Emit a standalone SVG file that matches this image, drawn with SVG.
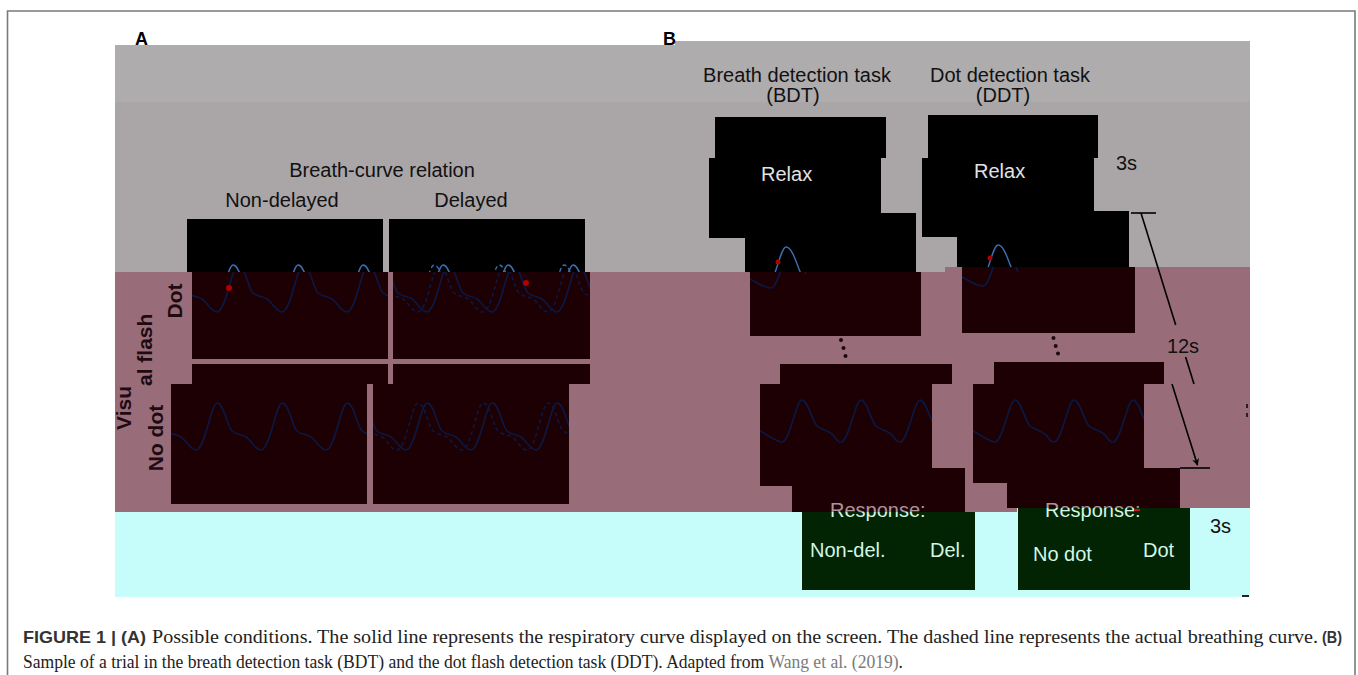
<svg xmlns="http://www.w3.org/2000/svg" width="1358" height="675" viewBox="0 0 1358 675">
<style>
.t{font-family:"Liberation Sans",Arial,sans-serif;font-size:20px;fill:#111}
.lbl{font-family:"Liberation Sans",Arial,sans-serif;font-size:21px;font-weight:bold;fill:#1e0a10}
.hd{font-family:"Liberation Sans",Arial,sans-serif;font-size:18px;font-weight:bold;fill:#000}
.scr{fill:#000}
.mar{fill:#1c0004}
.grn{fill:#022402}
.wt{font-family:"Liberation Sans",Arial,sans-serif;font-size:20px;fill:#e2e2e2}
.wc{font-family:"Liberation Sans",Arial,sans-serif;font-size:20px;fill:#d2f7e6}
.cg{fill:none;stroke:#3d70b0;stroke-width:1.4}
.cp{fill:none;stroke:#0b1844;stroke-width:1.6}
.dash{stroke-dasharray:4 3}
.conn{stroke:#000;stroke-width:1.6;fill:none}
.dot{fill:#1a0a0e}
.red{fill:#b00000}
.cap{font-family:"Liberation Serif","Times New Roman",serif;font-size:19px;fill:#222}
.capb{font-family:"Liberation Sans",Arial,sans-serif;font-size:17px;font-weight:bold;fill:#333}
</style>
<defs>
<path id="wA" d="M115,296 C125,299 145,312 152,312 C161,312 167,265 173,265 C180,265 183,288 188,293 C193,297 197,296 202,299 C207,302 211,312 217,312 C226,312 232,265 238,265 C245,265 248,288 253,293 C258,297 262,296 267,299 C272,302 276,312 282,312 C291,312 297,265 303,265 C310,265 313,288 318,293 C323,297 327,296 332,299 C337,302 341,312 347,312 C356,312 362,265 368,265 C375,265 378,288 383,293 C388,297 392,296 397,299 C402,302 406,312 412,312 C421,312 427,265 433,265 C440,265 443,288 448,293"/>
<path id="wB" d="M740,418 C748,422 774,442 782,442 C790,442 796,400 802,400 C808,400 812,421 817,426 C822,430 827,430 832,434 C836,437 836,442 841,442 C849,442 855,400 861,400 C867,400 871,421 876,426 C881,430 886,430 891,434 C895,437 895,442 900,442 C908,442 914,400 920,400 C926,400 930,421 935,426"/>
<path id="wS" d="M750,279 C758,283 764,288 771,288 C779,288 785,247 791,247 C797,247 801,262 806,274"/>
<linearGradient id="gRespB" gradientUnits="userSpaceOnUse" x1="0" y1="500" x2="0" y2="525">
<stop offset="0.48" stop-color="#b0929b"/><stop offset="0.48" stop-color="#d2f7e6"/>
</linearGradient>
<linearGradient id="gRespD" gradientUnits="userSpaceOnUse" x1="0" y1="500" x2="0" y2="525">
<stop offset="0.32" stop-color="#b0929b"/><stop offset="0.32" stop-color="#d2f7e6"/>
</linearGradient>
<clipPath id="cA1g"><rect x="187" y="219" width="196" height="53"/></clipPath>
<clipPath id="cA2g"><rect x="389" y="219" width="196" height="53"/></clipPath>
<clipPath id="cA1p"><rect x="192" y="272" width="196" height="87"/></clipPath>
<clipPath id="cA2p"><rect x="393" y="272" width="197" height="87"/></clipPath>
<clipPath id="cA3"><rect x="171" y="384" width="196" height="120"/></clipPath>
<clipPath id="cA4"><rect x="373" y="384" width="196" height="120"/></clipPath>
<clipPath id="cB1g"><rect x="745" y="213" width="171" height="59"/></clipPath>
<clipPath id="cB1p"><rect x="750" y="272" width="171" height="64"/></clipPath>
<clipPath id="cD1g"><rect x="957" y="211" width="172" height="56"/></clipPath>
<clipPath id="cD1p"><rect x="962" y="267" width="173" height="66"/></clipPath>
<clipPath id="cB2"><rect x="760" y="384" width="172" height="102"/></clipPath>
<clipPath id="cD2"><rect x="973" y="384" width="171" height="99"/></clipPath>
<clipPath id="cUp"><rect x="115" y="272" width="200" height="115"/></clipPath>
<clipPath id="cLo"><rect x="115" y="387" width="200" height="125"/></clipPath>
<marker id="ah" viewBox="0 0 10 10" refX="9" refY="5" markerWidth="7" markerHeight="7" orient="auto" markerUnits="userSpaceOnUse"><path d="M0,0 L10,5 L0,10 L3,5 Z" fill="#000"/></marker>
</defs>

<g id="frame">
<path d="M7.5,675 V11 H1355 V675" fill="none" stroke="#7a7a7a" stroke-width="1.6"/>
</g>

<g id="bands">
<path d="M115,45 H675 V41 H1250 V102 H115 Z" fill="#afacae"/>
<rect x="115" y="102" width="1135" height="170" fill="#aaa6a8"/>
<path d="M115,272 H945 V267 H1250 V508 H1017 V512 H115 Z" fill="#986d79"/>
<path d="M115,512 H1017 V508 H1250 V597 H115 Z" fill="#c6fcf9"/>
</g>

<g id="panel-labels">
<text class="hd" x="135" y="45">A</text>
<text class="hd" x="663" y="45">B</text>
</g>

<g id="A-headers">
<text class="t" x="382" y="177" text-anchor="middle" font-size="21">Breath-curve relation</text>
<text class="t" x="282" y="207" text-anchor="middle" font-size="21">Non-delayed</text>
<text class="t" x="471" y="207" text-anchor="middle" font-size="21">Delayed</text>
</g>

<g id="A-row-labels">
<g clip-path="url(#cUp)"><text class="lbl" transform="translate(152,430) rotate(-90)">Visual flash</text></g>
<g clip-path="url(#cLo)"><text class="lbl" transform="translate(131,430) rotate(-90)">Visual flash</text></g>
<text class="lbl" transform="translate(182,301) rotate(-90)" text-anchor="middle">Dot</text>
<text class="lbl" transform="translate(163,438) rotate(-90)" text-anchor="middle">No dot</text>
</g>

<g id="A-nondelayed-dot">
<rect class="scr" x="187" y="219" width="196" height="53"/>
<rect class="mar" x="192" y="272" width="196" height="87"/>
<g clip-path="url(#cA1g)"><use href="#wA" class="cg" transform="translate(-5,0)"/></g>
<g clip-path="url(#cA1p)"><use href="#wA" class="cp"/></g>
<circle class="red" cx="229" cy="288" r="3"/>
</g>

<g id="A-delayed-dot">
<rect class="scr" x="389" y="219" width="196" height="53"/>
<rect class="mar" x="393" y="272" width="197" height="87"/>
<g clip-path="url(#cA2g)"><use href="#wA" class="cg" transform="translate(205,0)"/><use href="#wA" class="cg dash" transform="translate(196,0)"/></g>
<g clip-path="url(#cA2p)"><use href="#wA" class="cp" transform="translate(210,0)"/><use href="#wA" class="cp dash" transform="translate(201,0)"/></g>
<circle class="red" cx="526" cy="283" r="3"/>
</g>

<g id="A-nondelayed-nodot">
<rect class="mar" x="192" y="364" width="196" height="20"/>
<rect class="mar" x="171" y="384" width="196" height="120"/>
<g clip-path="url(#cA3)"><use href="#wA" class="cp" transform="translate(-21,138)"/></g>
</g>

<g id="A-delayed-nodot">
<rect class="mar" x="393" y="364" width="197" height="20"/>
<rect class="mar" x="373" y="384" width="196" height="120"/>
<g clip-path="url(#cA4)"><use href="#wA" class="cp" transform="translate(189,138)"/><use href="#wA" class="cp dash" transform="translate(180,138)"/></g>
</g>

<g id="B-headers">
<text class="t" x="797" y="82" text-anchor="middle">Breath detection task</text>
<text class="t" x="793" y="102" text-anchor="middle">(BDT)</text>
<text class="t" x="1010" y="82" text-anchor="middle">Dot detection task</text>
<text class="t" x="1003" y="102" text-anchor="middle">(DDT)</text>
</g>

<g id="BDT-relax">
<rect class="scr" x="715" y="117" width="171" height="41"/>
<rect class="scr" x="709" y="158" width="172" height="80"/>
<text class="wt" x="761" y="181">Relax</text>
</g>

<g id="BDT-curve-1">
<rect class="scr" x="745" y="213" width="171" height="59"/>
<rect class="mar" x="750" y="272" width="171" height="64"/>
<g clip-path="url(#cB1g)"><use href="#wS" class="cg" transform="translate(-5,0)"/></g>
<g clip-path="url(#cB1p)"><use href="#wS" class="cp"/></g>
<circle class="red" cx="778" cy="262" r="2.5"/>
</g>

<g id="BDT-ellipsis">
<circle class="dot" cx="841" cy="340" r="2"/>
<circle class="dot" cx="843.5" cy="348" r="2"/>
<circle class="dot" cx="845.5" cy="356" r="2"/>
</g>

<g id="BDT-curve-2">
<rect class="mar" x="780" y="364" width="172" height="20"/>
<rect class="mar" x="760" y="384" width="172" height="102"/>
<g clip-path="url(#cB2)"><use href="#wB" class="cp"/></g>
</g>

<g id="BDT-response">
<rect class="mar" x="792" y="468" width="173" height="44"/>
<rect class="grn" x="802" y="512" width="173" height="78"/>
<text class="wc" x="830" y="517" fill="url(#gRespB)" style="fill:url(#gRespB)">Response:</text>
<text class="wc" x="810" y="557">Non-del.</text>
<text class="wc" x="930" y="557">Del.</text>
</g>

<g id="DDT-relax">
<rect class="scr" x="928" y="115" width="170" height="43"/>
<rect class="scr" x="922" y="158" width="172" height="79"/>
<text class="wt" x="974" y="178">Relax</text>
</g>

<g id="DDT-curve-1">
<rect class="scr" x="957" y="211" width="172" height="56"/>
<rect class="mar" x="962" y="267" width="173" height="66"/>
<g clip-path="url(#cD1g)"><use href="#wS" class="cg" transform="translate(207,-2)"/></g>
<g clip-path="url(#cD1p)"><use href="#wS" class="cp" transform="translate(212,-2)"/></g>
<circle class="red" cx="990" cy="258" r="2.5"/>
</g>

<g id="DDT-ellipsis">
<circle class="dot" cx="1053.5" cy="338" r="2"/>
<circle class="dot" cx="1055.7" cy="346" r="2"/>
<circle class="dot" cx="1058" cy="353.5" r="2"/>
</g>

<g id="DDT-curve-2">
<rect class="mar" x="994" y="362" width="170" height="22"/>
<rect class="mar" x="973" y="384" width="171" height="99"/>
<g clip-path="url(#cD2)"><use href="#wB" class="cp" transform="translate(213,0)"/></g>
</g>

<g id="DDT-response">
<rect class="mar" x="1007" y="468" width="173" height="40"/>
<rect class="grn" x="1018" y="508" width="172" height="82"/>
<text class="wc" x="1045" y="517" fill="url(#gRespD)" style="fill:url(#gRespD)">Response:</text>
<rect x="1134" y="509" width="6" height="2" fill="#d01010"/>
<text class="wc" x="1033" y="561">No dot</text>
<text class="wc" x="1143" y="557">Dot</text>
</g>

<g id="timing">
<text class="t" x="1116" y="170" font-size="19">3s</text>
<text class="t" x="1183" y="353" text-anchor="middle">12s</text>
<text class="t" x="1210" y="533" font-size="19">3s</text>
</g>

<g id="connectors">
<line class="conn" x1="1131" y1="213" x2="1156" y2="213"/>
<line class="conn" x1="1141" y1="213" x2="1175.7" y2="325"/>
<line class="conn" x1="1185.6" y1="357" x2="1194" y2="384"/>
<line class="conn" x1="1172" y1="384" x2="1197.5" y2="465" marker-end="url(#ah)"/>
<line class="conn" x1="1180" y1="468" x2="1210" y2="468"/>
<rect x="1246" y="404" width="2" height="4" fill="#222"/>
<rect x="1246" y="413" width="2" height="4" fill="#222"/>
<rect x="1242" y="595" width="7" height="2" fill="#222"/>
</g>

<g id="caption">
<text class="capb" x="23" y="643" textLength="123" lengthAdjust="spacingAndGlyphs">FIGURE 1 | (A)</text>
<text class="cap" x="152" y="643" textLength="1166" lengthAdjust="spacingAndGlyphs">Possible conditions. The solid line represents the respiratory curve displayed on the screen. The dashed line represents the actual breathing curve.</text>
<text class="capb" x="1322" y="643" font-size="18" textLength="20" lengthAdjust="spacingAndGlyphs">(B)</text>
<text class="cap" transform="translate(23,668) scale(0.924,1)">Sample of a trial in the breath detection task (BDT) and the dot flash detection task (DDT). Adapted from <tspan style="fill:#7a7a7a">Wang et al. (2019)</tspan>.</text>
</g>
</svg>
